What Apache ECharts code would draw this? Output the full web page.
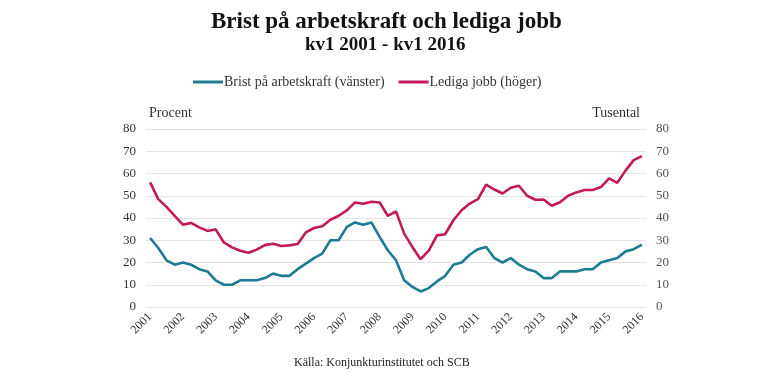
<!DOCTYPE html>
<html>
<head>
<meta charset="utf-8">
<script src="https://cdn.jsdelivr.net/npm/echarts@6/dist/echarts.min.js"></script>
<style>
html,body{margin:0;padding:0;background:#fff;}
#c{width:780px;height:390px;}
</style>
</head>
<body>
<div id="c"></div>
<script>
const years = ['2001','2002','2003','2004','2005','2006','2007','2008','2009','2010','2011','2012','2013','2014','2015','2016'];
const quarters = ['kv1','kv2','kv3','kv4'];
// Quarterly categories: kv1 2001 .. kv1 2016
const categories = [];
years.forEach(function (y, i) {
  quarters.forEach(function (q, j) {
    if (i < years.length - 1 || j === 0) categories.push(q + ' ' + y);
  });
});

// Brist på arbetskraft (vänster), procent
const bristValues = [
  31, 26.5, 21, 19,
  20, 19, 17, 16,
  12, 10, 10, 12,
  12, 12, 13, 15,
  14, 14, 17, 19.5,
  22, 24, 30, 30,
  36, 38, 37, 38,
  31.5, 25.5, 21, 12,
  9, 7, 8.5, 11.5,
  14, 19, 20, 23.5,
  26, 27, 22, 20,
  22, 19, 17, 16,
  13, 13, 16, 16,
  16, 17, 17, 20,
  21, 22, 25, 26,
  28
];

// Lediga jobb (höger), tusental
const ledigaValues = [
  56, 48.5, 45, 41,
  37, 37.8, 35.8, 34.2,
  34.9, 29, 26.8, 25.3,
  24.4, 25.8, 27.8, 28.4,
  27.4, 27.7, 28.3, 33.5,
  35.5, 36.3, 39.2, 41,
  43.4, 47, 46.4, 47.3,
  47, 41, 43, 33,
  27, 21.5, 25.3, 32.2,
  32.7, 39, 43.5, 46.5,
  48.5, 55, 52.8, 51,
  53.6, 54.5, 50, 48.2,
  48.3, 45.5, 47.1, 50,
  51.5, 52.6, 52.6, 53.9,
  57.8, 55.8, 61.3, 66,
  67.8
];

const yTicks = { min: 0, max: 80, interval: 10 };

const FONT = "'Liberation Serif', 'DejaVu Serif', serif";
const TEAL = '#1c7c93';
const RED = '#c3185a';

const chart = echarts.init(document.getElementById('c'), null, { renderer: 'canvas' });
chart.setOption({
  animation: false,
  backgroundColor: '#ffffff',
  textStyle: { fontFamily: FONT },
  title: [
    {
      text: 'Brist på arbetskraft och lediga jobb',
      left: 206, top: 6,
      textStyle: { fontFamily: FONT, fontSize: 23, fontWeight: 'bold', color: '#111' }
    },
    {
      text: 'kv1 2001 - kv1 2016',
      left: 300, top: 31,
      textStyle: { fontFamily: FONT, fontSize: 19, fontWeight: 'bold', color: '#111' }
    },
    {
      text: 'Källa: Konjunkturinstitutet och SCB',
      left: 289, top: 352,
      textStyle: { fontFamily: FONT, fontSize: 12, fontWeight: 'normal', color: '#222' }
    }
  ],
  legend: {
    top: 70, left: 188,
    icon: 'rect', itemWidth: 30, itemHeight: 3, itemGap: 14,
    textStyle: { fontFamily: FONT, fontSize: 14, color: '#333', padding: [0, 0, 0, -4] },
    data: ['Brist på arbetskraft (vänster)', 'Lediga jobb (höger)']
  },
  grid: { left: 146, width: 500, top: 129, height: 178, containLabel: false },
  xAxis: {
    type: 'category',
    data: categories,
    boundaryGap: true,
    axisLine: { show: false },
    axisTick: { show: false },
    axisLabel: {
      interval: 3, rotate: 45, margin: 8,
      fontFamily: FONT, fontSize: 12, color: '#333',
      formatter: function (v) { return v.split(' ')[1]; }
    },
    splitLine: { show: false }
  },
  yAxis: [
    {
      type: 'value', min: yTicks.min, max: yTicks.max, interval: yTicks.interval,
      name: 'Procent', nameLocation: 'end', nameGap: 9,
      nameTextStyle: { fontFamily: FONT, fontSize: 14, color: '#333', align: 'left', padding: [0, 0, 0, 3] },
      axisLine: { show: false }, axisTick: { show: false },
      axisLabel: { margin: 10, fontFamily: FONT, fontSize: 13, color: '#333' },
      splitLine: { lineStyle: { color: '#e3e3e3', width: 1 } }
    },
    {
      type: 'value', min: yTicks.min, max: yTicks.max, interval: yTicks.interval,
      position: 'right',
      name: 'Tusental', nameLocation: 'end', nameGap: 9,
      nameTextStyle: { fontFamily: FONT, fontSize: 14, color: '#333', align: 'right', padding: [0, 6, 0, 0] },
      axisLine: { show: false }, axisTick: { show: false },
      axisLabel: { margin: 10, fontFamily: FONT, fontSize: 13, color: '#555' },
      splitLine: { show: false }
    }
  ],
  series: [
    {
      name: 'Brist på arbetskraft (vänster)',
      type: 'line', yAxisIndex: 0,
      data: bristValues,
      showSymbol: false, symbol: 'none',
      lineStyle: { color: TEAL, width: 2.6 },
      itemStyle: { color: TEAL }
    },
    {
      name: 'Lediga jobb (höger)',
      type: 'line', yAxisIndex: 1,
      data: ledigaValues,
      showSymbol: false, symbol: 'none',
      lineStyle: { color: RED, width: 2.6 },
      itemStyle: { color: RED }
    }
  ]
});
</script>
</body>
</html>
